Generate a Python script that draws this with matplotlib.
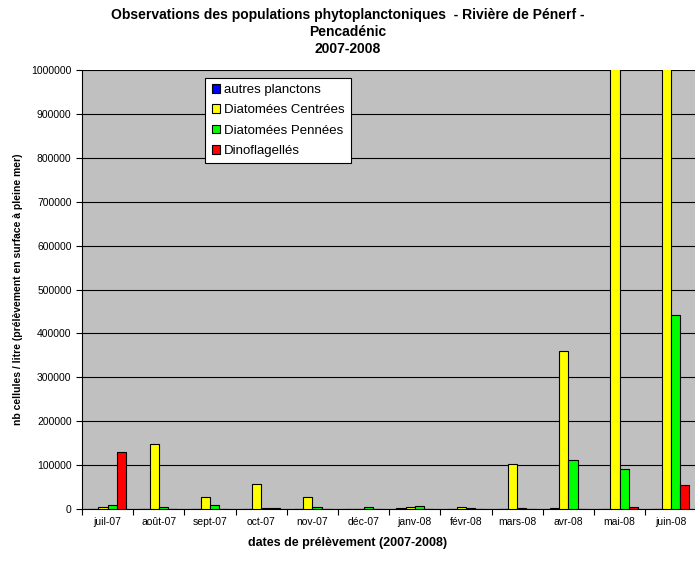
import matplotlib
matplotlib.use("Agg")
import matplotlib.pyplot as plt
import numpy as np

plt.rcParams['font.family'] = ['Liberation Sans', 'DejaVu Sans']

# dates de prélèvement
dates = ["juil-07", "août-07", "sept-07", "oct-07", "nov-07", "déc-07",
         "janv-08", "févr-08", "mars-08", "avr-08", "mai-08", "juin-08"]
# nb cellules / litre (mai et juin dépassent l'échelle)
autres = [0, 0, 0, 0, 0, 0, 1500, 0, 0, 1500, 0, 0]
centrees = [4000, 148000, 27000, 56000, 27000, 0, 5000, 4000, 102000, 360000, 1600000, 2300000]
pennees = [8000, 4000, 9000, 2000, 4000, 4000, 6000, 1500, 2000, 111000, 91000, 443000]
dinos = [130000, 0, 0, 2000, 0, 0, 0, 0, 0, 0, 4000, 55000]

series = [("autres planctons", autres, "#0000FF"),
          ("Diatomées Centrées", centrees, "#FFFF00"),
          ("Diatomées Pennées", pennees, "#00FF00"),
          ("Dinoflagellés", dinos, "#FF0000")]

fig = plt.figure(figsize=(6.95, 5.79), dpi=100)
ax = fig.add_axes([0.118, 0.121, 0.884, 0.758])
ax.set_facecolor("#C0C0C0")

x = np.arange(len(dates))
w = 0.18
for i, (name, vals, col) in enumerate(series):
    ax.bar(x + (i - 1.5) * w, vals, w, color=col, edgecolor="black",
           linewidth=0.8, label=name, zorder=3)

ax.set_xlim(-0.5, len(dates) - 0.5)
ax.set_ylim(0, 1000000)
ax.set_yticks(np.arange(0, 1000001, 100000))
ax.set_yticklabels([str(v) for v in range(0, 1000001, 100000)], fontsize=7.5)
ax.yaxis.grid(True, color="black", linewidth=0.8, zorder=1)
ax.set_xticks(x)
ax.set_xticklabels(dates, fontsize=7.5)
ax.set_xticks(np.arange(-0.5, len(dates)), minor=True)
ax.tick_params(axis="x", which="major", length=0, pad=6)
ax.tick_params(axis="x", which="minor", length=4, width=0.8)
ax.tick_params(axis="y", length=4, width=0.8)
for s in ["top", "right"]:
    ax.spines[s].set_visible(False)
ax.spines["left"].set_linewidth(0.8)
ax.spines["bottom"].set_linewidth(0.8)

ax.set_ylabel("nb cellules / litre (prélèvement en surface à pleine mer)",
              fontsize=7.5, fontweight="bold", labelpad=6)
fig.text(0.5, 0.062, "dates de prélèvement (2007-2008)", ha="center",
         va="center", fontsize=9, fontweight="bold")
fig.text(0.5, 0.987,
         "Observations des populations phytoplanctoniques  - Rivière de Pénerf -\nPencadénic\n2007-2008",
         ha="center", va="top", fontsize=10, fontweight="bold", linespacing=1.3)

leg = ax.legend(loc="upper left", bbox_to_anchor=(0.295, 0.866),
                bbox_transform=fig.transFigure, fontsize=9.5, frameon=True,
                fancybox=False, framealpha=1, edgecolor="black",
                handlelength=0.65, handleheight=0.65, handletextpad=0.3,
                labelspacing=0.62, borderpad=0.5, borderaxespad=0)
leg.get_frame().set_linewidth(0.8)

fig.savefig("out.png", dpi=100)
